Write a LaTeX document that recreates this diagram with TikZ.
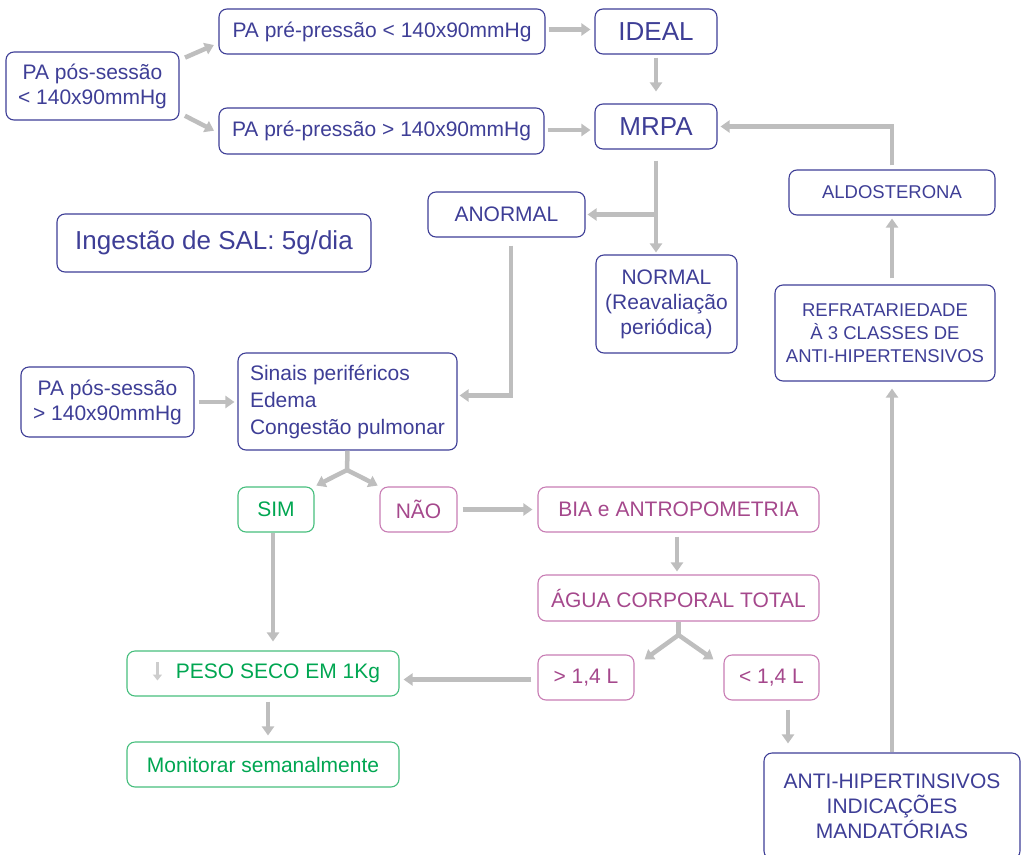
\documentclass[tikz,border=0pt]{standalone}
\usepackage{fontspec}
\setmainfont{Liberation Sans}
\usetikzlibrary{arrows.meta}
\definecolor{navy}{RGB}{62,62,150}
\definecolor{greenline}{RGB}{70,190,125}
\definecolor{greentext}{RGB}{0,166,81}
\definecolor{purpleline}{RGB}{200,125,180}
\definecolor{purpletext}{RGB}{165,72,140}
\definecolor{arrowgray}{RGB}{190,190,190}
\definecolor{lightgray}{RGB}{205,205,205}
\begin{document}
\begin{tikzpicture}[x=1pt,y=-1pt,
  box/.style={draw, rounded corners=8pt, line width=1.1pt, inner sep=0pt,
    align=center, font=\fontsize{21}{25}\selectfont},
  bluebox/.style={box, draw=navy, text=navy},
  greenbox/.style={box, draw=greenline, text=greentext},
  purplebox/.style={box, draw=purpleline, text=purpletext},
  arr/.style={draw=arrowgray, line width=4.5pt, -{Triangle[length=9pt,width=12pt]}},
  link/.style={draw=arrowgray, line width=4.5pt},
  smallarr/.style={draw=lightgray, line width=2.5pt, -{Triangle[length=6pt,width=9pt]}},
]
\useasboundingbox (0,0) rectangle (1025,854);

% --- top section: blood pressure checks
\node[bluebox, minimum width=173pt, minimum height=68pt] (pos1) at (92.5,86)
  {PA pós-sessão\\< 140x90mmHg};
\node[bluebox, minimum width=326pt, minimum height=45pt] (pre1) at (382,31.5)
  {PA pré-pressão < 140x90mmHg};
\node[bluebox, minimum width=325pt, minimum height=46pt] (pre2) at (381.5,131)
  {PA pré-pressão > 140x90mmHg};
\node[bluebox, minimum width=122pt, minimum height=45pt, font=\fontsize{26}{30}\selectfont] (ideal) at (656,31.5) {IDEAL};
\node[bluebox, minimum width=122pt, minimum height=45pt, font=\fontsize{26}{30}\selectfont] (mrpa) at (656,126.5) {MRPA};
\node[bluebox, minimum width=157pt, minimum height=45pt] (anormal) at (506.5,214.5) {ANORMAL};
\node[bluebox, minimum width=141pt, minimum height=98pt] (normal) at (666.5,304)
  {NORMAL\\(Reavaliação\\periódica)};
\node[bluebox, minimum width=314pt, minimum height=58pt, font=\fontsize{26}{30}\selectfont] (sal) at (214,243)
  {Ingestão de SAL: 5g/dia};

% --- right column
\node[bluebox, minimum width=206pt, minimum height=45pt, font=\fontsize{18.5}{23}\selectfont] (aldo) at (892,192.5) {ALDOSTERONA};
\node[bluebox, minimum width=220pt, minimum height=96pt, font=\fontsize{18.5}{23}\selectfont] (refrat) at (885,333)
  {REFRATARIEDADE\\À 3 CLASSES DE\\ANTI-HIPERTENSIVOS};
\node[bluebox, minimum width=256pt, minimum height=106pt] (anti) at (892,806)
  {ANTI-HIPERTINSIVOS\\INDICAÇÕES\\MANDATÓRIAS};

% --- middle section: congestion signs
\node[bluebox, minimum width=173pt, minimum height=70pt] (pos2) at (107.5,402)
  {PA pós-sessão\\> 140x90mmHg};
\node[bluebox, minimum width=219pt, minimum height=97pt, align=left, font=\fontsize{21}{27}\selectfont] (sinais) at (347.5,401.5)
  {Sinais periféricos\\Edema\\Congestão pulmonar};

\node[greenbox, minimum width=76pt, minimum height=45pt] (sim) at (276,509.5) {SIM};
\node[purplebox, minimum width=77pt, minimum height=45pt] (nao) at (418.5,509.5) {NÃO};
\node[purplebox, minimum width=281pt, minimum height=45pt] (bia) at (678.5,509.5) {BIA e ANTROPOMETRIA};
\node[purplebox, minimum width=281pt, minimum height=46pt] (agua) at (678.5,598) {ÁGUA CORPORAL TOTAL};
\node[purplebox, minimum width=96pt, minimum height=45pt] (gt) at (586,677.5) {> 1,4 L};
\node[purplebox, minimum width=95pt, minimum height=45pt] (lt) at (771.5,677.5) {< 1,4 L};

\node[greenbox, minimum width=272pt, minimum height=45pt] (peso) at (263,673.5)
  {\hspace*{30pt}PESO SECO EM 1Kg};
\node[greenbox, minimum width=272pt, minimum height=45pt] (mon) at (263,764.5)
  {Monitorar semanalmente};

% small "decrease" arrow inside the dry-weight box
\draw[smallarr] ([xshift=31pt,yshift=11.5pt]peso.west) -- ([xshift=31pt,yshift=-7pt]peso.west);

% --- connectors
\draw[arr, shorten <=6pt, shorten >=5pt] ([yshift=26pt]pos1.east) -- ([yshift=-11.5pt]pre1.west);
\draw[arr, shorten <=6pt, shorten >=5pt] ([yshift=-27pt]pos1.east) -- ([yshift=-2pt]pre2.west);
\draw[arr, shorten <=3pt, shorten >=4pt] ([yshift=2pt]pre1.east) -- ([yshift=2pt]ideal.west);
\draw[arr, shorten <=3pt, shorten >=4pt] ([yshift=1pt]pre2.east) -- ([yshift=1pt]pre2.east -| mrpa.west);
\draw[arr, shorten <=3pt, shorten >=12pt] (ideal.south) -- (mrpa.north);
\draw[arr, shorten <=11pt, shorten >=2pt] (mrpa.south) -- (mrpa.south |- normal.north);
\draw[arr, shorten >=2pt] (mrpa.south |- anormal.east) -- (anormal.east);
\draw[arr, shorten <=4pt, shorten >=3pt] (aldo.north) |- (mrpa.east);
\draw[arr, shorten <=6pt, shorten >=3pt] (aldo.south |- refrat.north) -- (aldo.south);
\draw[arr, shorten >=7pt] (anti.north) -- (anti.north |- refrat.south);

\draw[arr, shorten <=8pt, shorten >=2pt] ([xshift=4.5pt]anormal.south) |- ([yshift=6pt]sinais.east);
\draw[arr, shorten <=4pt, shorten >=3pt] (pos2.east) -- (pos2.east -| sinais.west);

\coordinate (fork1) at (347,470);
\draw[link] (sinais.south) -- ([yshift=-1pt]fork1);
\draw[arr, shorten >=2pt] (fork1) -- (sim.north east);
\draw[arr, shorten >=2pt] (fork1) -- (nao.north west);

\draw[arr, shorten <=5pt, shorten >=5pt] (nao.east) -- (nao.east -| bia.west);
\draw[arr, shorten <=4pt, shorten >=3pt] ([xshift=-1.5pt]bia.south) -- ([xshift=-1.5pt]agua.north);

\coordinate (fork2) at (678.5,635);
\draw[link] (agua.south) -- ([yshift=-1pt]fork2);
\draw[arr] (fork2) -- ([xshift=10pt,yshift=-5pt]gt.north east);
\draw[arr] (fork2) -- ([xshift=-10pt,yshift=-5pt]lt.north west);

\draw[arr, shorten <=6pt, shorten >=4pt] ([yshift=-2pt]gt.west) -- ([yshift=-2pt]gt.west -| peso.east);
\draw[arr, shorten >=9pt] ([xshift=-3pt]sim.south) -- ([xshift=-3pt]sim.south |- peso.north);
\draw[arr, shorten <=5pt, shorten >=6pt] ([xshift=5pt]peso.south) -- ([xshift=5pt]mon.north);
\draw[arr, shorten <=9pt, shorten >=9pt] ([xshift=16.5pt]lt.south) -- ([xshift=16.5pt]lt.south |- anti.north);
\end{tikzpicture}
\end{document}
